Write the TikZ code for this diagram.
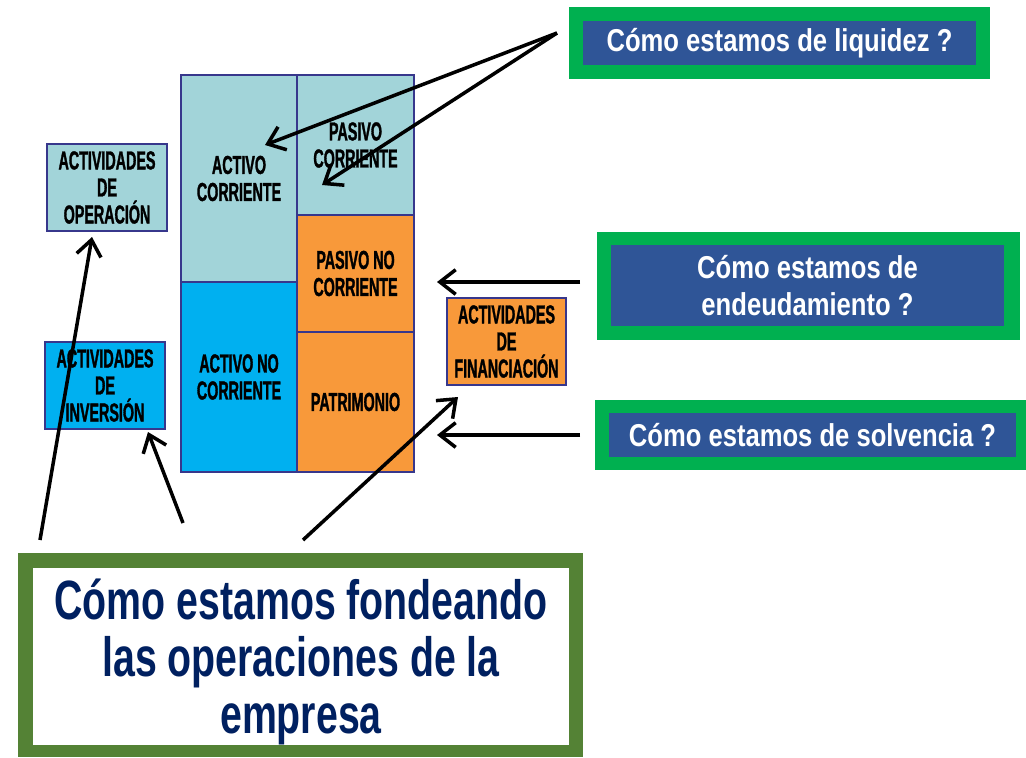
\documentclass[tikz,border=0pt]{standalone}
\usepackage{fontspec}
\setmainfont{Liberation Sans}
\newfontfamily\cellfont[FakeStretch=0.55,BoldFeatures={FakeBold=1.2}]{Liberation Sans}
\newfontfamily\askfont[FakeStretch=0.81]{Liberation Sans}
\newfontfamily\bigfont[FakeStretch=0.71]{Liberation Sans}
\usetikzlibrary{arrows.meta}
\definecolor{lightteal}{RGB}{162,212,217}
\definecolor{skyblue}{RGB}{0,176,240}
\definecolor{orangecell}{RGB}{248,153,58}
\definecolor{cellborder}{RGB}{55,55,140}
\definecolor{askgreen}{RGB}{0,176,80}
\definecolor{askblue}{RGB}{47,85,151}
\definecolor{olivegreen}{RGB}{84,130,53}
\definecolor{navytext}{RGB}{0,32,96}
\begin{document}
\begin{tikzpicture}[x=0.02cm,y=-0.02cm,
  cell/.style={fill=#1,draw=cellborder,line width=1.1pt},
  celltext/.style={font={\cellfont\bfseries\fontsize{14.8}{15.4}\selectfont},align=center,text=black},
  asktext/.style={font={\askfont\bfseries\fontsize{18}{21}\selectfont},align=center,text=white},
  bigtext/.style={font={\bigfont\bfseries\fontsize{31.5}{32.6}\selectfont},align=center,text=navytext,yshift=-3.2pt},
  arr/.style={line width=2pt,-{Straight Barb[length=9pt,width=14pt]}}]
\useasboundingbox (0,0) rectangle (1026,757);
\draw[cell=lightteal] (181,75) rectangle node[celltext] (ac) {ACTIVO\\CORRIENTE} (297,282);
\draw[cell=skyblue] (181,282) rectangle node[celltext] (anc) {ACTIVO NO\\CORRIENTE} (297,472);
\draw[cell=lightteal] (297,75) rectangle node[celltext] (pc) {PASIVO\\CORRIENTE} (414,215);
\draw[cell=orangecell] (297,215) rectangle node[celltext] (pnc) {PASIVO NO\\CORRIENTE} (414,332);
\draw[cell=orangecell] (297,332) rectangle node[celltext] (pat) {PATRIMONIO} (414,472);
\draw[cell=lightteal] (47,144) rectangle node[celltext] (op) {ACTIVIDADES\\DE\\OPERACIÓN} (167,231);
\draw[cell=skyblue] (45,342) rectangle node[celltext] (inv) {ACTIVIDADES\\DE\\INVERSIÓN} (165,429);
\draw[cell=orangecell] (447,298) rectangle node[celltext] (fin) {ACTIVIDADES\\DE\\FINANCIACIÓN} (566,385);
\fill[askgreen] (569,7) rectangle (990,79);
\fill[askblue] (583,21) rectangle node[asktext] (liq) {Cómo estamos de liquidez ?} (976,65);
\fill[askgreen] (597,232) rectangle (1020,340);
\fill[askblue] (611,245) rectangle node[asktext] (deu) {Cómo estamos de\\endeudamiento ?} (1004,326);
\fill[askgreen] (595,400) rectangle (1026,470);
\fill[askblue] (609,413) rectangle node[asktext] (sol) {Cómo estamos de solvencia ?} (1016,457);
\fill[olivegreen] (18,553) rectangle (583,757);
\fill[white] (33,568) rectangle node[bigtext] (fond) {Cómo estamos fondeando\\las operaciones de la\\empresa} (569,745);
\coordinate (liqtail) at (557,33);
\coordinate (achead) at (265,145);
\coordinate (pchead) at (322,185);
\coordinate (deutail) at (580,282);
\coordinate (deuhead) at (437,282);
\coordinate (soltail) at (580,435);
\coordinate (solhead) at (437,435);
\coordinate (fintail) at (303,540);
\coordinate (finhead) at (458,397);
\coordinate (optail) at (40,540);
\coordinate (ophead) at (92,237);
\coordinate (invtail) at (183,523);
\coordinate (invhead) at (148,432);
\draw[arr] (liqtail) -- (achead);
\draw[arr] (liqtail) -- (pchead);
\draw[arr] (deutail) -- (deuhead);
\draw[arr] (soltail) -- (solhead);
\draw[arr] (fintail) -- (finhead);
\draw[arr] (optail) -- (ophead);
\draw[arr] (invtail) -- (invhead);
\end{tikzpicture}
\end{document}
